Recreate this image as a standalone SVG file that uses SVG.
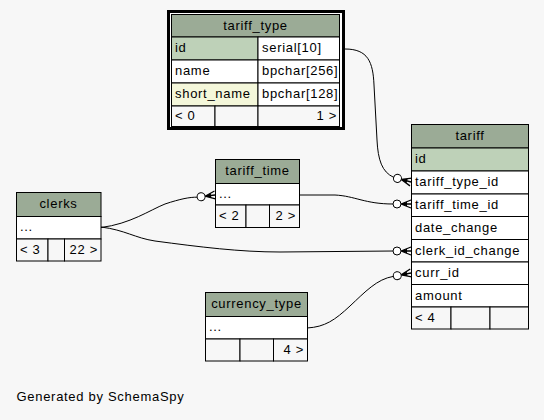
<svg xmlns="http://www.w3.org/2000/svg" width="544" height="420" viewBox="0 0 544 420">
<style>
text{font-family:"Liberation Sans",Arial,sans-serif;font-size:13px;letter-spacing:0.7px;fill:#000}
.c{text-anchor:middle}
.r{text-anchor:end}
.hd{fill:#9bab96;stroke:#000;stroke-width:1}
.pk{fill:#bed1b8;stroke:#000;stroke-width:1}
.ix{fill:#f4f7da;stroke:#000;stroke-width:1}
.w{fill:#ffffff;stroke:#000;stroke-width:1}
.ft{fill:#f7f7f7;stroke:#000;stroke-width:1}
.e{fill:none;stroke:#000;stroke-width:1}
.cr{fill:none;stroke:#000;stroke-width:1.3}
.o{fill:#ffffff;stroke:#000;stroke-width:1}
</style>
<defs>
<g id="crow">
<path class="cr" d="M-10,0 L0,-4 M-10,0 L0,0 M-10,0 L0,4"/>
<polygon points="-10,0 -4,-2.2 -4,2.2" fill="#000"/>
<circle class="o" cx="-14" cy="0" r="4"/>
</g>
</defs>
<rect x="0" y="0" width="544" height="420" fill="#f7f7f7"/>

<g id="connectors">
<path class="e" d="M345,49 C368,49 373,62 374,85 L377,140 C378,160 382,172 393.6,177.3"/>
<use href="#crow" transform="translate(411,182) rotate(15)"/>
<path class="e" d="M299,195 L335,195 C355,196 365,204 393,204"/>
<use href="#crow" transform="translate(411,204)"/>
<path class="e" d="M101,227 C125,230 135,238 155,241 C200,247 240,252 280,252 L393,251"/>
<use href="#crow" transform="translate(411,251)"/>
<path class="e" d="M101,227.5 C130,224 150,210 165,204 C180,199 190,197 197.1,197.2"/>
<use href="#crow" transform="translate(215,195) rotate(-7)"/>
<path class="e" d="M307,328 C325,327 335,320 350,306 C365,292 377,279 393.3,276.4"/>
<use href="#crow" transform="translate(411,273) rotate(-11)"/>
</g>

<g id="tariff_type">
<rect x="168.5" y="11.5" width="175" height="117" fill="#ffffff" stroke="#000" stroke-width="3"/>
<rect class="hd" x="171.5" y="14.5" width="168" height="22.5"/>
<text class="c" x="255.5" y="30">tariff_type</text>
<rect class="pk" x="171.5" y="37" width="86.5" height="23"/>
<rect class="w" x="258" y="37" width="81.5" height="23"/>
<text x="175" y="52">id</text>
<text x="262" y="52">serial[10]</text>
<rect class="w" x="171.5" y="60" width="86.5" height="23"/>
<rect class="w" x="258" y="60" width="81.5" height="23"/>
<text x="175" y="75">name</text>
<text x="262" y="75">bpchar[256]</text>
<rect class="ix" x="171.5" y="83" width="86.5" height="23"/>
<rect class="w" x="258" y="83" width="81.5" height="23"/>
<text x="175" y="98">short_name</text>
<text x="262" y="98">bpchar[128]</text>
<rect class="ft" x="171.5" y="106" width="43.5" height="20.5"/>
<rect class="ft" x="215" y="106" width="43" height="20.5"/>
<rect class="ft" x="258" y="106" width="81.5" height="20.5"/>
<text x="175" y="120">&lt; 0</text>
<text class="r" x="337" y="120">1 &gt;</text>
</g>

<g id="tariff">
<rect class="hd" x="411.5" y="124.5" width="117" height="23.5"/>
<text class="c" x="470" y="140">tariff</text>
<rect class="pk" x="411.5" y="148" width="117" height="23"/>
<text x="415" y="163">id</text>
<rect class="w" x="411.5" y="171" width="117" height="23"/>
<text x="415" y="186">tariff_type_id</text>
<rect class="w" x="411.5" y="194" width="117" height="22.5"/>
<text x="415" y="209">tariff_time_id</text>
<rect class="w" x="411.5" y="216.5" width="117" height="23"/>
<text x="415" y="231.5">date_change</text>
<rect class="w" x="411.5" y="239.5" width="117" height="22.5"/>
<text x="415" y="254.5">clerk_id_change</text>
<rect class="w" x="411.5" y="262" width="117" height="22.5"/>
<text x="415" y="277">curr_id</text>
<rect class="w" x="411.5" y="284.5" width="117" height="22.5"/>
<text x="415" y="299.5">amount</text>
<rect class="ft" x="411.5" y="307" width="39.5" height="22"/>
<rect class="ft" x="451" y="307" width="39" height="22"/>
<rect class="ft" x="490" y="307" width="38.5" height="22"/>
<text x="415" y="321.5">&lt; 4</text>
</g>

<g id="clerks">
<rect class="hd" x="16.5" y="192.5" width="84.5" height="24"/>
<text class="c" x="58.5" y="208">clerks</text>
<rect class="w" x="16.5" y="216.5" width="84.5" height="22.5"/>
<text x="20" y="231">...</text>
<rect class="ft" x="16.5" y="239" width="31.5" height="22"/>
<rect class="ft" x="48" y="239" width="16.5" height="22"/>
<rect class="ft" x="64.5" y="239" width="36.5" height="22"/>
<text x="20" y="254">&lt; 3</text>
<text class="r" x="98" y="254">22 &gt;</text>
</g>

<g id="tariff_time">
<rect class="hd" x="215.5" y="159.5" width="84" height="24"/>
<text class="c" x="257.5" y="175">tariff_time</text>
<rect class="w" x="215.5" y="183.5" width="84" height="21.5"/>
<text x="219" y="198">...</text>
<rect class="ft" x="215.5" y="205" width="30.5" height="22.5"/>
<rect class="ft" x="246" y="205" width="23.5" height="22.5"/>
<rect class="ft" x="269.5" y="205" width="30" height="22.5"/>
<text x="219" y="220">&lt; 2</text>
<text class="r" x="296" y="220">2 &gt;</text>
</g>

<g id="currency_type">
<rect class="hd" x="205.5" y="292.5" width="102" height="24"/>
<text class="c" x="256.5" y="308">currency_type</text>
<rect class="w" x="205.5" y="316.5" width="102" height="22.5"/>
<text x="209" y="331">...</text>
<rect class="ft" x="205.5" y="339" width="34.5" height="22"/>
<rect class="ft" x="240" y="339" width="33.5" height="22"/>
<rect class="ft" x="273.5" y="339" width="34" height="22"/>
<text class="r" x="304" y="354">4 &gt;</text>
</g>

<text x="16.5" y="401">Generated by SchemaSpy</text>
</svg>
